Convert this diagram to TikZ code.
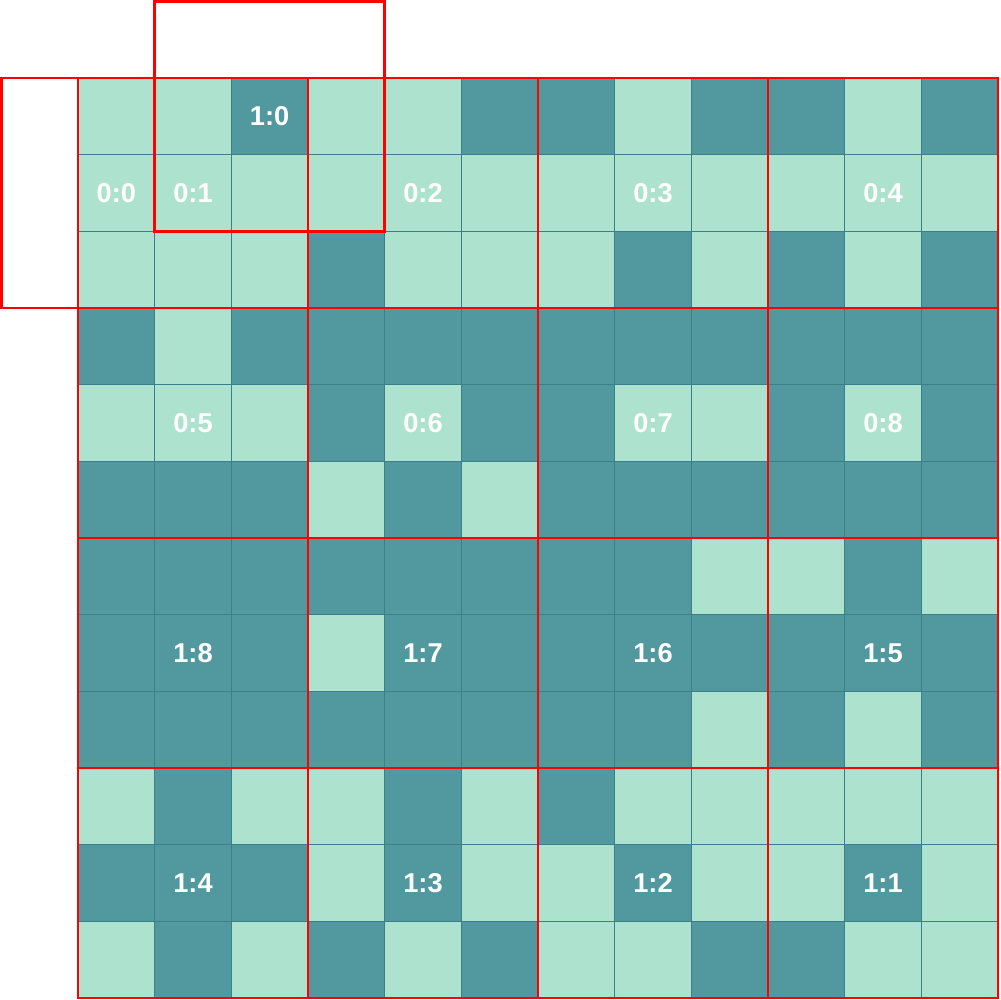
\documentclass[tikz,border=0pt]{standalone}
\usepackage{fontspec}
\setmainfont{Liberation Sans}
\usetikzlibrary{positioning}
\definecolor{mintfill}{HTML}{ADE2CF}
\definecolor{tealfill}{HTML}{52999F}
\definecolor{tealedge}{HTML}{3A7F89}

\begin{document}
\begin{tikzpicture}[
    x=0.02cm, y=-0.02cm,
    tile/.style={rectangle, draw=tealedge, line width=0.8pt, minimum size=1.5333cm, inner sep=0pt, outer sep=0pt},
    tile0/.style={tile, fill=mintfill},
    tile1/.style={tile, fill=tealfill},
    tag/.style={text=white, font=\fontsize{15.5}{18}\selectfont\bfseries},
    zone/.style={draw=red, line width=1.4pt},
]
\useasboundingbox (0,0) rectangle (1000,1000);

% Cells (0 = light, 1 = dark)
\foreach \r/\pattern in {
    0/{0,0,1,0,0,1,1,0,1,1,0,1},
    1/{0,0,0,0,0,0,0,0,0,0,0,0},
    2/{0,0,0,1,0,0,0,1,0,1,0,1},
    3/{1,0,1,1,1,1,1,1,1,1,1,1},
    4/{0,0,0,1,0,1,1,0,0,1,0,1},
    5/{1,1,1,0,1,0,1,1,1,1,1,1},
    6/{1,1,1,1,1,1,1,1,0,0,1,0},
    7/{1,1,1,0,1,1,1,1,1,1,1,1},
    8/{1,1,1,1,1,1,1,1,0,1,0,1},
    9/{0,1,0,0,1,0,1,0,0,0,0,0},
    10/{1,1,1,0,1,0,0,1,0,0,1,0},
    11/{0,1,0,1,0,1,0,0,1,1,0,0}}
  \foreach \v [count=\c from 0] in \pattern
    \node[tile\v] (c-\r-\c) at ({78+76.667*(\c+0.5)}, {78+76.667*(\r+0.5)}) {};

% Labels
\foreach \r/\c/\t in {0/2/1:0, 1/0/0:0, 1/1/0:1, 1/4/0:2, 1/7/0:3, 1/10/0:4,
    4/1/0:5, 4/4/0:6, 4/7/0:7, 4/10/0:8,
    7/1/1:8, 7/4/1:7, 7/7/1:6, 7/10/1:5,
    10/1/1:4, 10/4/1:3, 10/7/1:2, 10/10/1:1}
  \node[tag] (t-\r-\c) at (c-\r-\c) {\t};

% Blocks
\foreach \i in {0,...,3}
  \foreach \j in {0,...,3}
    \draw[zone] ({78+230*\i}, {78+230*\j}) rectangle +(230,230);

% Shifted windows
\draw[zone] (154.7,1.5) rectangle (384.7,231.3);
\draw[zone] (1.5,78) rectangle (78,308);

\end{tikzpicture}
\end{document}
